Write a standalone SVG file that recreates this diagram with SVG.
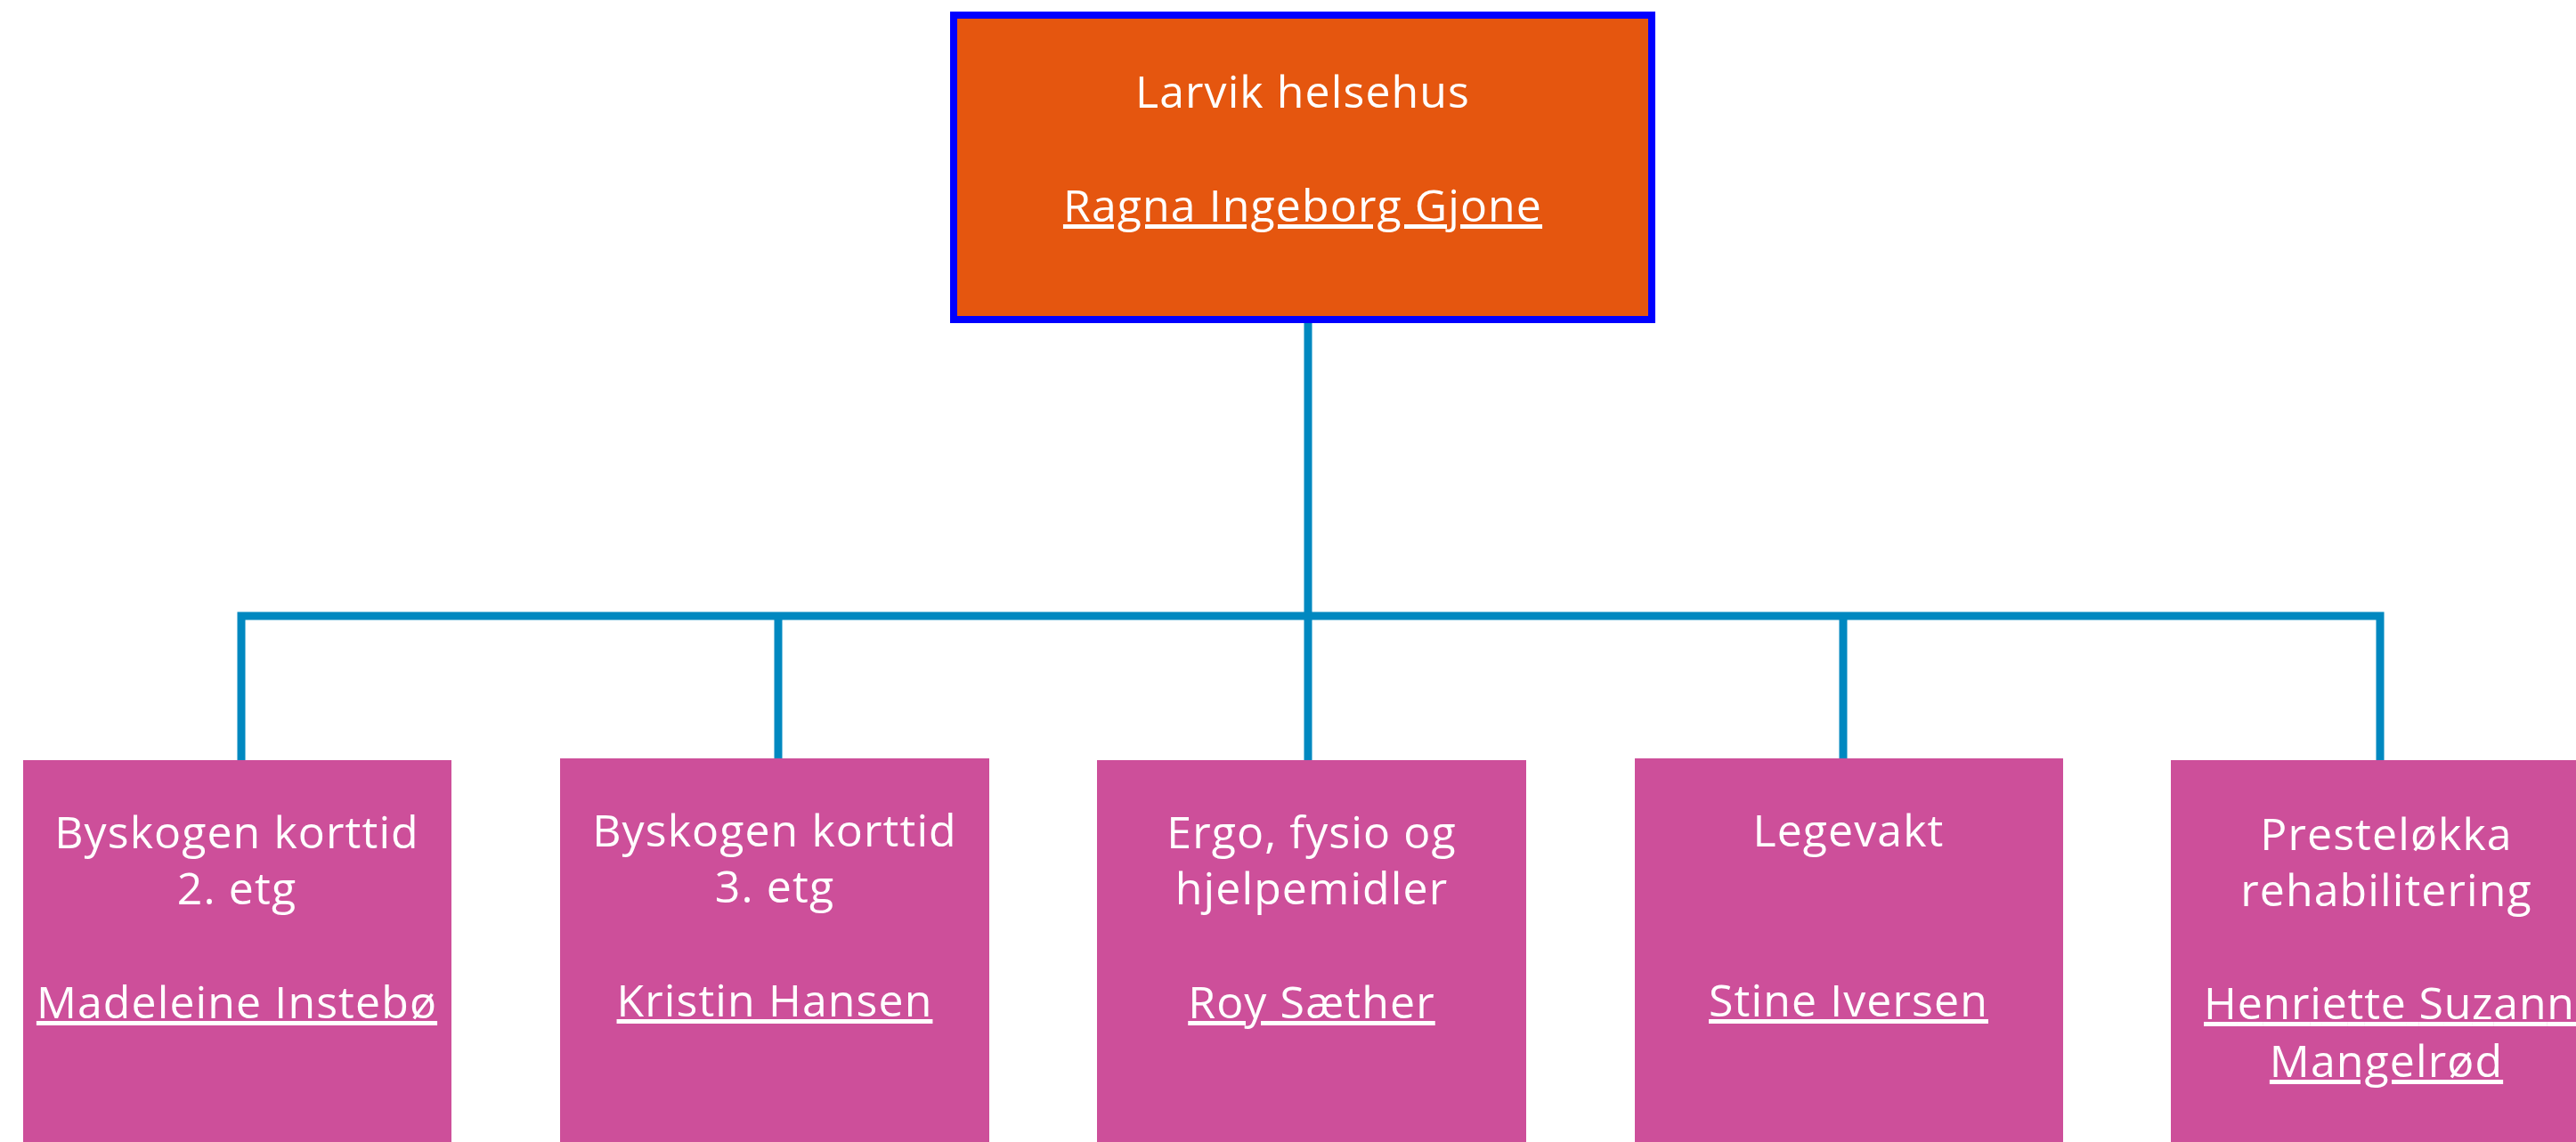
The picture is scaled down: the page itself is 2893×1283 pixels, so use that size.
<svg xmlns="http://www.w3.org/2000/svg" width="2893" height="1283" viewBox="0 0 2893 1283">
<style>
.child{fill:#CD4F9A}
.root{fill:#E5560F;stroke:#0000FF;stroke-width:8}
.t{font-family:"Open Sans","Liberation Sans",sans-serif;font-size:50px;letter-spacing:1.1px;fill:#FFFFFF;text-anchor:middle}
.u{text-decoration:underline}
.s{text-anchor:start}
.conn{fill:none;stroke:#0088C0;stroke-width:9}
</style>
<rect width="2893" height="1283" fill="#FFFFFF"/>
<g id="connectors">
<path class="conn" d="M1469 363 V692"/>
<path class="conn" d="M271 854 V692 H2673 V854"/>
<path class="conn" d="M874 692 V852"/>
<path class="conn" d="M1469 692 V854"/>
<path class="conn" d="M2070 692 V852"/>
</g>
<g id="node-root">
<rect class="root" x="1071" y="17" width="784" height="342"/>
<text class="t" x="1463" y="121">Larvik helsehus</text>
<text class="t u" x="1463" y="249">Ragna Ingeborg Gjone</text>
</g>
<g id="node-byskogen-2">
<rect class="child" x="26" y="854" width="481" height="440"/>
<text class="t" x="266" y="953">Byskogen korttid</text>
<text class="t" x="266" y="1016">2. etg</text>
<text class="t u" x="266" y="1144">Madeleine Instebø</text>
</g>
<g id="node-byskogen-3">
<rect class="child" x="629" y="852" width="482" height="440"/>
<text class="t" x="870" y="951">Byskogen korttid</text>
<text class="t" x="870" y="1014">3. etg</text>
<text class="t u" x="870" y="1142">Kristin Hansen</text>
</g>
<g id="node-ergo">
<rect class="child" x="1232" y="854" width="482" height="440"/>
<text class="t" x="1473" y="953">Ergo, fysio og</text>
<text class="t" x="1473" y="1016">hjelpemidler</text>
<text class="t u" x="1473" y="1144">Roy Sæther</text>
</g>
<g id="node-legevakt">
<rect class="child" x="1836" y="852" width="481" height="440"/>
<text class="t" x="2076" y="951">Legevakt</text>
<text class="t u" x="2076" y="1142">Stine Iversen</text>
</g>
<g id="node-presteloekka">
<rect class="child" x="2438" y="854" width="484" height="440"/>
<text class="t" x="2680" y="955">Presteløkka</text>
<text class="t" x="2680" y="1018">rehabilitering</text>
<text class="t u s" x="2475" y="1145" textLength="446" lengthAdjust="spacing">Henriette Suzanne</text>
<text class="t u" x="2680" y="1210">Mangelrød</text>
</g>
</svg>
